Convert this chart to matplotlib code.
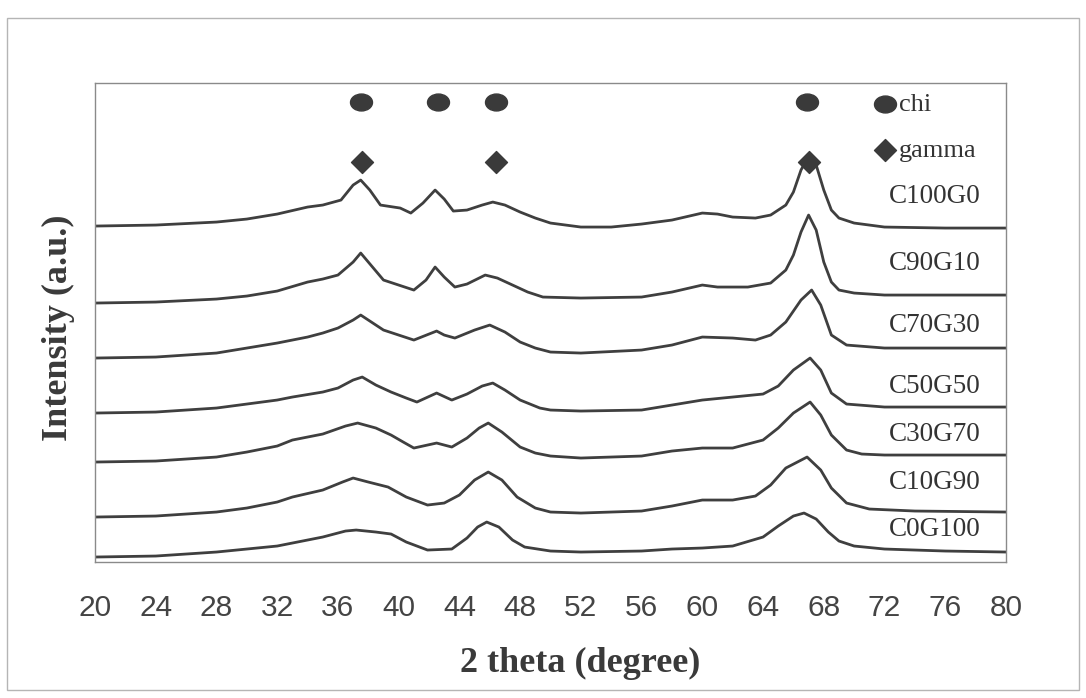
#!/usr/bin/env python3
"""
XRD patterns of C/G mixtures (stacked, arbitrary units)
"""

import matplotlib
matplotlib.use("Agg")
import matplotlib.pyplot as plt
from matplotlib.path import Path
from matplotlib.transforms import Affine2D
from matplotlib.patches import Rectangle

# --- data (2 theta in degree, intensity in a.u., stacked) ---
tt_c100g0 = [20, 24, 28, 30, 32, 34, 35, 36.2, 37, 37.5, 38.1, 38.8, 40.1, 40.8, 41.6, 42.4, 43, 43.6,
             44.5, 45.5, 46.2, 47, 48, 49, 50, 52, 54, 56, 58, 60, 61, 62, 63.5, 64.5, 65.5, 66,
             66.5, 67, 67.5, 68, 68.5, 69, 70, 72, 76, 80]
int_c100g0 = [334, 335, 338, 341, 346, 353, 355, 360, 375, 380, 370, 355, 352, 347, 357, 370, 361, 349,
              350, 355, 358, 355, 348, 342, 337, 333, 333, 336, 340, 347, 346, 343, 342, 345, 355, 368,
              390, 404, 395, 370, 350, 342, 337, 333, 332, 332]

tt_c90g10 = [20, 24, 28, 30, 32, 34, 35, 36, 37, 37.5, 38, 39, 40, 41, 41.8, 42.4, 43, 43.7, 44.5,
             45.7, 46.5, 47.5, 48.5, 49.5, 52, 56, 58, 60, 61, 63, 64.5, 65.5, 66, 66.5, 67, 67.5,
             68, 68.5, 69, 70, 72, 80]
int_c90g10 = [257, 258, 261, 264, 269, 278, 281, 285, 298, 307, 298, 280, 275, 270, 280, 293, 283, 273, 276,
              285, 282, 275, 268, 263, 262, 263, 268, 275, 273, 273, 277, 290, 305, 328, 345, 330,
              298, 278, 270, 267, 265, 265]

tt_c70g30 = [20, 24, 28, 30, 32, 34, 35, 36, 37, 37.5, 38, 39, 40, 41, 42, 42.5, 43, 43.7, 45, 46,
             47, 48, 49, 50, 52, 56, 58, 60, 62, 63.5, 64.5, 65.5, 66.5, 67.2, 67.8, 68.5, 69.5, 72, 80]
int_c70g30 = [202, 203, 207, 212, 217, 223, 227, 232, 240, 245, 240, 230, 225, 220, 226, 229, 225, 222, 230, 235,
              228, 218, 212, 208, 207, 210, 215, 223, 222, 220, 225, 238, 260, 270, 255, 225, 215, 212, 212]

tt_c50g50 = [20, 24, 28, 30, 32, 33, 35, 36, 37, 37.6, 38.5, 39.5, 40.5, 41.2, 42.5, 43.5, 44.5, 45.5,
             46.2, 47, 48, 49.3, 50, 52, 56, 58, 60, 62, 64, 65, 66, 67.1, 67.8, 68.5, 69.5, 72, 80]
int_c50g50 = [147, 148, 152, 156, 160, 163, 168, 172, 180, 183, 175, 168, 162, 158, 167, 160, 166, 174,
              177, 170, 160, 152, 150, 149, 150, 155, 160, 163, 166, 174, 190, 202, 190, 167, 156, 153, 153]

tt_c30g70 = [20, 24, 28, 30, 32, 33, 35, 36.5, 37.3, 38.5, 39.5, 40.3, 41, 42.5, 43.5, 44.5, 45.3, 45.9,
             46.8, 48, 49, 50, 52, 56, 58, 60, 62, 64, 65, 66, 67.1, 67.8, 68.5, 69.5, 70.5, 72, 80]
int_c30g70 = [98, 99, 103, 108, 114, 120, 126, 134, 137, 132, 125, 118, 112, 117, 113, 122, 132, 137,
              128, 113, 107, 104, 102, 104, 109, 112, 112, 120, 132, 147, 158, 145, 125, 110, 106, 105, 105]

tt_c10g90 = [20, 24, 28, 30, 32, 33, 35, 36.3, 37, 38, 39.3, 40.5, 41.9, 43, 44, 45, 45.9, 46.8, 47.8,
             49, 50, 52, 56, 58, 60, 62, 63.5, 64.5, 65.5, 66.9, 67.8, 68.5, 69.5, 71, 74, 80]
int_c10g90 = [43, 44, 48, 52, 58, 63, 70, 78, 82, 78, 73, 63, 55, 57, 65, 80, 88, 80, 63,
              52, 48, 47, 49, 54, 60, 60, 64, 75, 92, 103, 90, 72, 57, 51, 49, 48]

tt_c0g100 = [20, 24, 28, 30, 32, 33, 35, 36.5, 37.2, 38.5, 39.5, 40.5, 41.9, 43.5, 44.5, 45.2, 45.8,
             46.6, 47.5, 48.3, 50, 52, 56, 58, 60, 62, 64, 65, 66, 66.7, 67.5, 68.3, 69, 70, 72, 76, 80]
int_c0g100 = [3, 4, 8, 11, 14, 17, 23, 29, 30, 28, 26, 18, 10, 11, 22, 33, 38,
              33, 20, 13, 9, 8, 9, 11, 12, 14, 23, 34, 44, 47, 41, 28, 19, 14, 11, 9, 8]

samples = ["C100G0", "C90G10", "C70G30", "C50G50", "C30G70", "C10G90", "C0G100"]
sample_label_int = [364, 297, 235, 174, 126, 78, 31]

# phase reflections
chi_tt = [37.5, 42.6, 46.4, 66.9]
chi_int = [458, 458, 458, 458]
gamma_tt = [37.6, 46.4, 67.0]
gamma_int = [398, 398, 398]

x_ticks = list(range(20, 81, 4))

curves = [
    (tt_c100g0, int_c100g0),
    (tt_c90g10, int_c90g10),
    (tt_c70g30, int_c70g30),
    (tt_c50g50, int_c50g50),
    (tt_c30g70, int_c30g70),
    (tt_c10g90, int_c10g90),
    (tt_c0g100, int_c0g100),
]

LINE_COLOR = "#3f3f3f"
MARK_COLOR = "#3a3a3a"
SERIF = ["Liberation Serif", "DejaVu Serif"]
NARROW = ["Liberation Sans Narrow", "Liberation Sans", "DejaVu Sans"]

fig = plt.figure(figsize=(10.86, 6.98), dpi=100)
ax = fig.add_axes([0.0875, 0.1948, 0.8388, 0.6862])

for tt, inten in curves:
    ax.plot(tt, inten, color=LINE_COLOR, lw=2.0, solid_joinstyle="round")

# ellipse marker for chi
ellipse = Path.unit_circle().transformed(Affine2D().scale(1.3, 1.0))
h_chi = ax.scatter(chi_tt, chi_int, marker=ellipse, s=250, color=MARK_COLOR, zorder=3, label="chi")
h_gam = ax.scatter(gamma_tt, gamma_int, marker="D", s=125, color=MARK_COLOR, zorder=3, label="gamma")

for name, yv in zip(samples, sample_label_int):
    ax.text(78.3, yv, name, ha="right", va="center", fontsize=19.5, family=SERIF, color="#333333")

leg = ax.legend(handles=[h_chi, h_gam], loc="upper left", bbox_to_anchor=(0.854, 0.981),
                frameon=False, handlelength=0.9, handletextpad=0.1, labelspacing=0.85,
                borderpad=0, borderaxespad=0, prop={"family": SERIF, "size": 19})
for t in leg.get_texts():
    t.set_color("#333333")

ax.set_xlim(20, 80)
ax.set_ylim(-2, 477)
ax.set_xticks(x_ticks)
ax.set_xticklabels([str(v) for v in x_ticks], family=NARROW, fontsize=21.5, color="#444444")
ax.set_yticks([])
ax.tick_params(axis="x", length=0, pad=23)

for sp in ax.spines.values():
    sp.set_color("#8a8a8a")
    sp.set_linewidth(1.0)

ax.set_xlabel("2 theta (degree)", family=SERIF, fontweight="bold", fontsize=26, color="#3a3a3a")
ax.xaxis.set_label_coords(0.533, -0.178)
ax.set_ylabel("Intensity (a.u.)", family=SERIF, fontweight="bold", fontsize=26, color="#3a3a3a")
ax.yaxis.set_label_coords(-0.022, 0.49)

# outer frame of the figure
fig.add_artist(Rectangle((0.0065, 0.0115), 0.987, 0.963, transform=fig.transFigure,
                         fill=False, edgecolor="#b5b5b5", lw=1.0))

fig.savefig("out.png", dpi=100, facecolor="white")
